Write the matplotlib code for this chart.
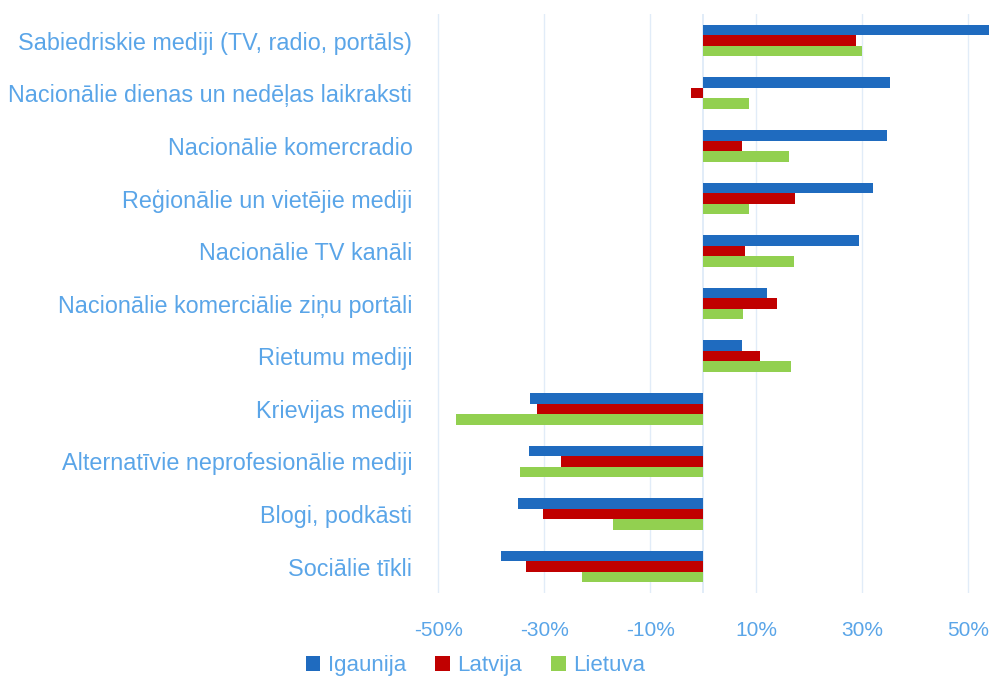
import matplotlib
matplotlib.use("Agg")
import matplotlib.pyplot as plt
import numpy as np

# categories, top to bottom
categories = [
    "Sabiedriskie mediji (TV, radio, portāls)",
    "Nacionālie dienas un nedēļas laikraksti",
    "Nacionālie komercradio",
    "Reģionālie un vietējie mediji",
    "Nacionālie TV kanāli",
    "Nacionālie komerciālie ziņu portāli",
    "Rietumu mediji",
    "Krievijas mediji",
    "Alternatīvie neprofesionālie mediji",
    "Blogi, podkāsti",
    "Sociālie tīkli",
]
igaunija = [54.0, 35.3, 34.7, 32.1, 29.5, 12.1, 7.3, -32.6, -32.8, -35.0, -38.1]
latvija = [28.9, -2.3, 7.3, 17.4, 7.9, 14.0, 10.8, -31.4, -26.9, -30.3, -33.4]
lietuva = [30.0, 8.7, 16.2, 8.7, 17.2, 7.5, 16.5, -46.6, -34.5, -17.1, -22.9]
series_names = ["Igaunija", "Latvija", "Lietuva"]
colors = ["#1F6BBF", "#C00000", "#92D050"]
xticks = [-50, -30, -10, 10, 30, 50]

label_col = "#5AA5E8"
grid_col = "#E1ECF8"

plt.rcParams["font.family"] = ["Liberation Sans", "DejaVu Sans"]

fig = plt.figure(figsize=(9.93, 6.8), dpi=100)
ax = fig.add_axes([0.421, 0.128, 0.579, 0.851])

y = np.arange(len(categories))
h = 0.2
for i, (vals, name, c) in enumerate(zip([igaunija, latvija, lietuva], series_names, colors)):
    ax.barh(y + (i - 1) * h, vals, height=h, color=c, label=name, zorder=3)

ax.set_ylim(len(categories) - 0.5, -0.5)
ax.set_xlim(-53.8, 54.7)
ax.set_yticks(y)
ax.set_yticklabels(categories, color=label_col, fontsize=16.8)
ax.set_xticks(xticks)
ax.set_xticklabels([f"{t}%" for t in xticks], color=label_col, fontsize=15)
ax.tick_params(axis="both", length=0)
ax.tick_params(axis="x", pad=20)
ax.tick_params(axis="y", pad=4)
ax.grid(axis="x", color=grid_col, linewidth=1.0, zorder=0)
ax.axvline(0, color=grid_col, linewidth=1.4, zorder=1)
for s in ax.spines.values():
    s.set_visible(False)

leg = fig.legend(loc="center", bbox_to_anchor=(0.479, 0.021), ncol=3, frameon=False,
                 fontsize=16, handlelength=0.65, handleheight=0.65, handletextpad=0.35,
                 columnspacing=1.3, borderpad=0.1)
for t in leg.get_texts():
    t.set_color(label_col)

fig.savefig("out.png", dpi=100)
